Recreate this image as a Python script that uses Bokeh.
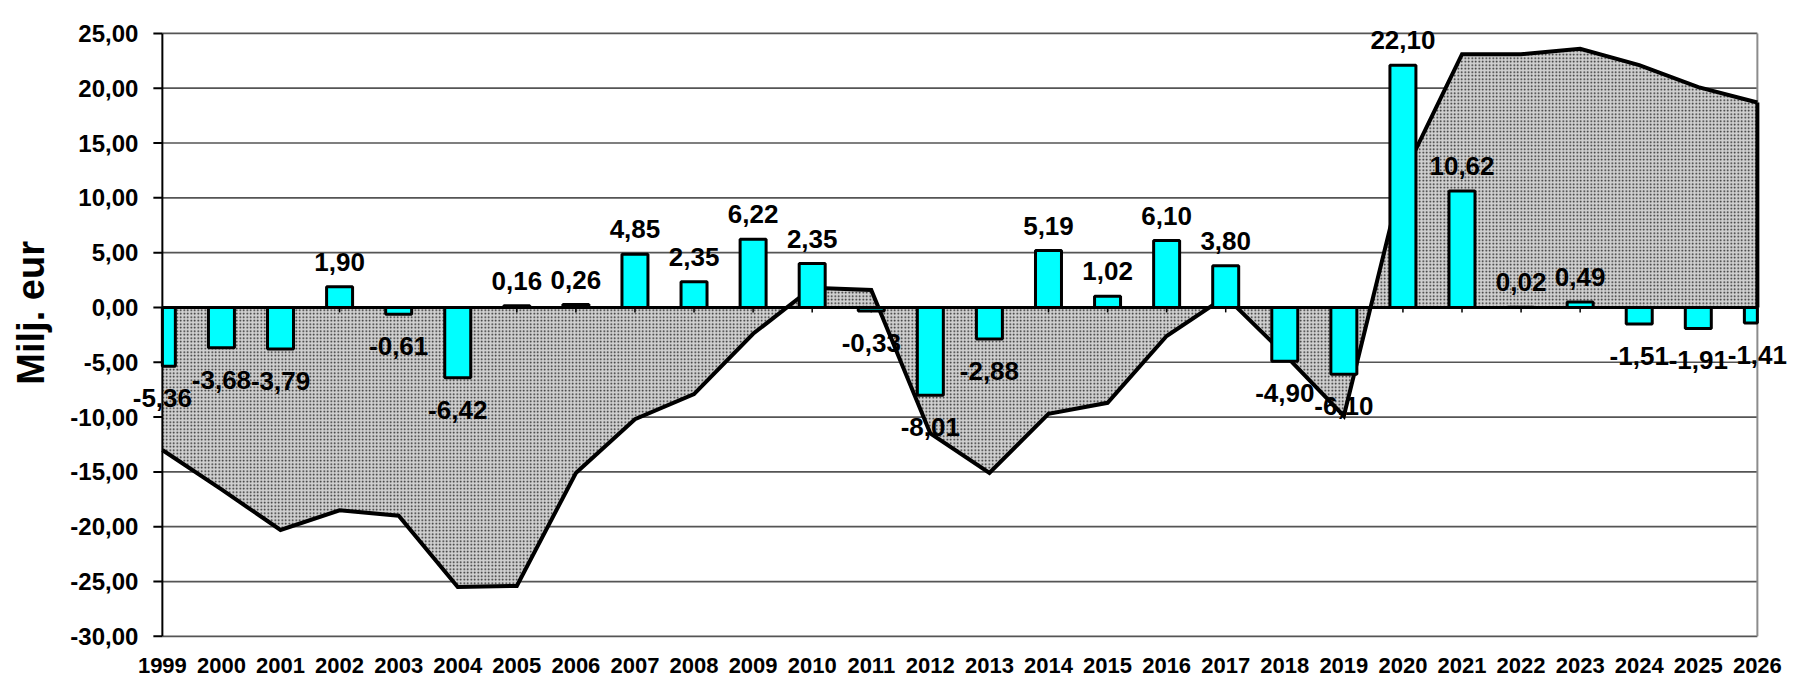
import math
from bokeh.plotting import figure
from bokeh.models import Range1d, FixedTicker
from bokeh.core.properties import value
from bokeh.embed import file_html
from bokeh.resources import INLINE

# ---- data ----
years = list(range(1999, 2027))
bar_values = [-5.36, -3.68, -3.79, 1.90, -0.61, -6.42, 0.16, 0.26, 4.85, 2.35,
              6.22, 4.00, -0.33, -8.01, -2.88, 5.19, 1.02, 6.10, 3.80, -4.90,
              -6.10, 22.10, 10.62, 0.02, 0.49, -1.51, -1.91, -1.41]
bar_labels = ["-5,36", "-3,68", "-3,79", "1,90", "-0,61", "-6,42", "0,16", "0,26",
              "4,85", "2,35", "6,22", "2,35", "-0,33", "-8,01", "-2,88", "5,19",
              "1,02", "6,10", "3,80", "-4,90", "-6,10", "22,10", "10,62", "0,02",
              "0,49", "-1,51", "-1,91", "-1,41"]
area_values = [-13.0, -16.6, -20.3, -18.5, -19.0, -25.5, -25.4, -15.1, -10.2, -7.9,
               -2.4, 1.8, 1.6, -11.5, -15.1, -9.7, -8.7, -2.6, 1.0, -4.3,
               -9.9, 12.0, 23.1, 23.1, 23.6, 22.1, 20.1, 18.7]
y_ticks = [-30, -25, -20, -15, -10, -5, 0, 5, 10, 15, 20, 25]
y_tick_labels = [f"{t:.2f}".replace(".", ",") for t in y_ticks]
y_axis_title = "Milj. eur"

FONT = "Liberation Sans"
X0, X1 = years[0], years[-1]          # plot-area edges (categories on the edges)
Y0, Y1 = y_ticks[0], y_ticks[-1]

# The frame covers (almost) the whole canvas so that edge labels are not clipped;
# the Excel-like plot area (X0..X1, Y0..Y1) is drawn inside it.
p = figure(width=1800, height=679, output_backend="svg", toolbar_location=None,
           x_range=Range1d(1996.26, 2026.73), y_range=Range1d(-31.2, 28.0),
           y_axis_location=None,
           min_border_left=0, min_border_top=0, min_border_right=0,
           min_border_bottom=30)
p.background_fill_color = "white"
p.border_fill_color = "white"
p.outline_line_color = None
p.grid.visible = False

# x axis (labels only)
p.xaxis.ticker = FixedTicker(ticks=years)
p.xaxis.axis_line_color = None
p.xaxis.major_tick_line_color = None
p.xaxis.minor_tick_line_color = None
p.xaxis.major_label_standoff = 2
p.xaxis.major_label_text_font = FONT
p.xaxis.major_label_text_font_style = "bold"
p.xaxis.major_label_text_font_size = "22px"
p.xaxis.major_label_text_color = "black"

# horizontal gridlines across the plot area (top/bottom act as the plot border)
p.segment(x0=[X0] * len(y_ticks), y0=y_ticks, x1=[X1] * len(y_ticks), y1=y_ticks,
          line_color="#555555", line_width=1.7)
# right border of the plot area
p.segment(x0=[X1], y0=[Y0], x1=[X1], y1=[Y1], line_color="#8c8c8c", line_width=2)

# area series
p.varea(x=years, y1=0, y2=area_values, fill_color="#d0d0d0",
        hatch_pattern=".", hatch_color="#1e1e1e", hatch_scale=3.5, hatch_weight=1.6)
p.line(x=years, y=area_values, line_color="black", line_width=4, line_join="miter")
p.segment(x0=[X1], y0=[0], x1=[X1], y1=[area_values[-1]],
          line_color="black", line_width=4)

# category tick marks at the zero line
p.segment(x0=years, y0=[0] * len(years), x1=years, y1=[-0.45] * len(years),
          line_color="black", line_width=1.5)

# bars (clipped to the plot area at the two edge categories)
half = 0.22
lefts = [max(x - half, X0) for x in years]
rights = [min(x + half, X1) for x in years]
p.quad(left=lefts, right=rights, top=bar_values, bottom=0, fill_color="#00ffff",
       line_color="black", line_width=3)

# zero line (category axis crossing)
p.segment(x0=[X0], y0=[0], x1=[X1], y1=[0], line_color="black", line_width=3)

# value axis: line, outward ticks, labels, title
p.segment(x0=[X0], y0=[Y0], x1=[X0], y1=[Y1], line_color="black", line_width=2)
p.ray(x=[X0] * len(y_ticks), y=y_ticks, length=9, length_units="screen",
      angle=math.pi, line_color="black", line_width=2)
p.text(x=[X0] * len(y_ticks), y=y_ticks, text=y_tick_labels, x_offset=-24,
       text_align="right", text_baseline="middle", text_font=value(FONT),
       text_font_style="bold", text_font_size="24px", text_color="black")
p.text(x=[X0], y=[(Y0 + Y1) / 2], text=[y_axis_title], x_offset=-131, y_offset=-22,
       angle=math.pi / 2,
       text_align="center", text_baseline="middle", text_font=value(FONT),
       text_font_style="bold", text_font_size="38px", text_color="black")

# data labels
offsets = [-25 if v >= 0 else 32 for v in bar_values]
p.text(x=years, y=bar_values, text=bar_labels, y_offset=offsets,
       text_align="center", text_baseline="middle", text_font=value(FONT),
       text_font_style="bold", text_font_size="26px", text_color="black")

open("out.html", "w").write(file_html(p, INLINE))
